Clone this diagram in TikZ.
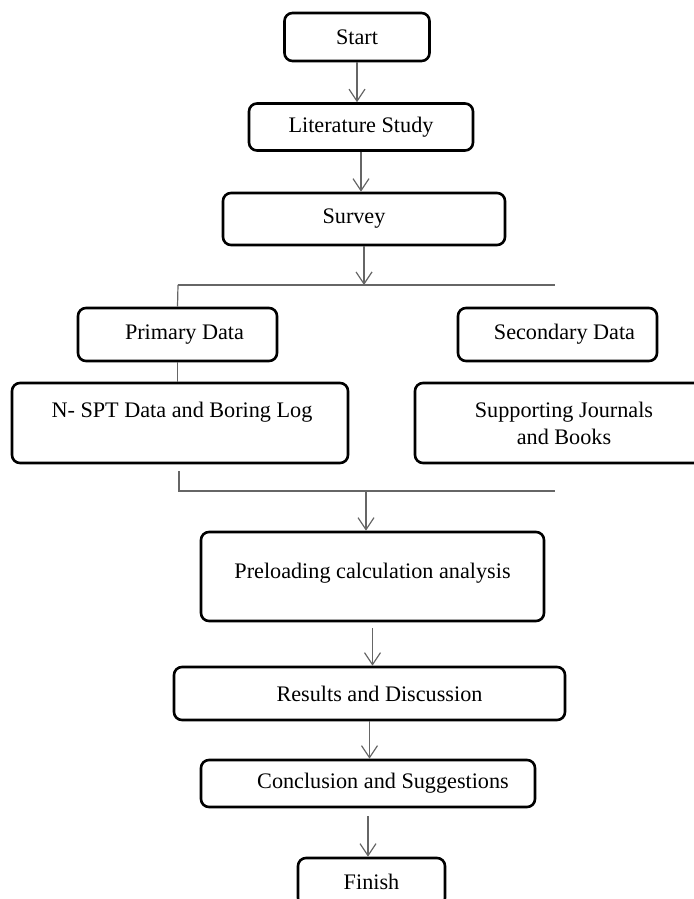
\documentclass[tikz,border=0pt]{standalone}
\usepackage{fontspec}
\setmainfont{Liberation Serif}
\usetikzlibrary{arrows.meta}

\begin{document}
\begin{tikzpicture}[x=0.5pt,y=-0.5pt,
  box/.style={draw,line width=1.3pt,rounded corners=4pt,inner sep=0pt,align=center},
  arr/.style={-{Straight Barb[length=6pt,width=8pt]},line width=0.6pt,black!60},
  link/.style={line width=0.6pt,black!60}]
\fontsize{11.1}{13.5}\selectfont
\clip (0,0) rectangle (694,899);

% main column
\node[box,minimum width=72.5pt,minimum height=24pt] (start) at (357,37) {Start};
\node[box,minimum width=112pt,minimum height=23.5pt] (litstudy) at (361,127) {Literature Study};
\node[box,minimum width=141pt,minimum height=26pt] (survey) at (364,219) {Survey\hspace*{10pt}};

% data branches
\node[box,minimum width=99.5pt,minimum height=26.5pt] (primary) at (177.5,334.5) {\hspace*{7pt}Primary Data};
\node[box,minimum width=99.5pt,minimum height=26.5pt] (secondary) at (557.5,334.5) {\hspace*{7pt}Secondary Data};
\node[box,minimum width=168pt,minimum height=40pt,text depth=13pt] (nspt) at (180,423) {\hspace*{2pt}N- SPT Data and Boring Log};
\node[box,minimum width=149pt,minimum height=40pt] (journals) at (564,423) {Supporting Journals\\and Books};

\node[box,minimum width=171.5pt,minimum height=44.5pt,text depth=6pt] (preload) at (372.5,576.5) {Preloading calculation analysis};
\node[box,minimum width=195.5pt,minimum height=26.5pt] (results) at (369.5,693.5) {\hspace*{10pt}Results and Discussion};
\node[box,minimum width=167pt,minimum height=23.5pt] (concl) at (368,783.5) {\hspace*{15pt}Conclusion and Suggestions};
\node[box,minimum width=73.5pt,minimum height=24pt] (finish) at (371.5,882) {Finish};

\coordinate (splitL) at (178,285);
\coordinate (splitR) at (555,285);
\coordinate (mergeT) at (179,471);
\coordinate (mergeL) at (179,491);
\coordinate (mergeR) at (555,491);
\coordinate (mergeM) at (366,491);

\draw[arr] (start.south) -- (start.south |- litstudy.north);
\draw[arr] (litstudy.south) -- (litstudy.south |- survey.north);
\draw[arr] (survey.south) -- (survey.south |- splitL);

\draw[link] (primary.north |- splitL) -- (splitR);
\draw[link] (splitL) -- (primary.north);
\draw[link] (primary.south) -- (primary.south |- nspt.north);

\draw[link] (mergeT) -- (mergeL) -- (mergeR);
\draw[arr] (mergeM) -- (mergeM |- preload.north);

\draw[arr] ([yshift=-3pt]preload.south) -- (preload.south |- results.north);
\draw[arr] (results.south) -- (results.south |- concl.north);
\draw[arr] ([yshift=-4pt]concl.south) -- (concl.south |- finish.north);

\end{tikzpicture}
\end{document}
